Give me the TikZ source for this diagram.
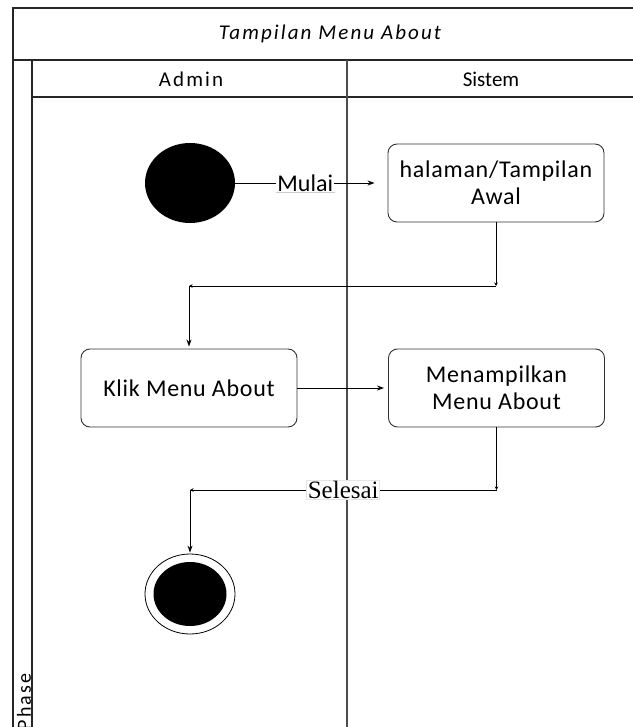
\documentclass[tikz,border=0pt]{standalone}
\usepackage{fontspec}
\setmainfont{Carlito}
\newfontfamily\labelserif{Liberation Serif}
\newfontfamily\spacedfont[LetterSpace=3]{Carlito}
\newfontfamily\widefont[LetterSpace=10]{Carlito}
\usetikzlibrary{shapes.geometric,arrows.meta}
\begin{document}
\begin{tikzpicture}[x=1pt,y=-1pt,
  frame/.style={draw=black!85, line width=1.3pt},
  divider/.style={draw=black!70, line width=1.8pt},
  lanehead/.style={font=\fontsize{21}{24}\selectfont},
  action/.style={draw=black!80, line width=0.9pt, rounded corners=9pt,
    minimum width=216pt, minimum height=78pt, align=center,
    font=\spacedfont\fontsize{24}{27}\selectfont, inner sep=2pt},
  flow/.style={draw=black, line width=0.9pt, -{Stealth[length=7pt,width=5pt]}},
  turn/.style={draw=black, line width=0.9pt, -{Stealth[length=3.5pt,width=3.5pt]}},
  lbl/.style={fill=white, inner sep=1pt, font=\fontsize{24}{27}\selectfont},
]
\useasboundingbox (0,0) rectangle (632,727);

% swimlane frame
\draw[frame] (645,8) -- (13,8) -- (13,745);
\draw[frame] (13,60) -- (645,60);
\draw[frame] (32,97) -- (645,97);
\draw[frame] (32,60) -- (32,745);
\draw[divider] (347,60) -- (347,745);

% headings
\node[font=\widefont\fontsize{21}{24}\selectfont\itshape] (title) at (330,34) {Tampilan Menu About};
\node[lanehead, font=\widefont\fontsize{21}{24}\selectfont] (adminhead) at (191,79) {Admin};
\node[lanehead] (sistemhead) at (491,79) {Sistem};
\node[rotate=90, font=\widefont\fontsize{20}{22}\selectfont] (phase) at (24,702) {Phase};

% activity nodes
\node[ellipse, fill=black, minimum width=90pt, minimum height=80pt, inner sep=0pt] (start) at (190,183) {};
\node[action] (box1) at (496,183) {halaman/Tampilan\\Awal};
\node[action] (box2) at (189,388) {Klik Menu About};
\node[action] (box3) at (496.5,388) {Menampilkan\\Menu About};
\node[ellipse, draw=black, line width=0.8pt, fill=white, minimum width=90pt, minimum height=80pt, inner sep=0pt] (stop) at (190,594) {};
\node[ellipse, fill=black, minimum width=73pt, minimum height=64pt, inner sep=0pt] (stopdot) at (stop.center) {};

% start -> halaman awal
\draw[flow, shorten >=13pt] (start) -- node[lbl, pos=0.46] (mulai) {Mulai} (box1);
\draw[black!20, line width=0.8pt] (mulai.south west) -- (mulai.south east);

% halaman awal -> klik menu about
\coordinate (c1) at (box1.south |- 0,286);
\coordinate (c2) at (box2.north |- c1);
\draw[turn] (box1.south) -- (c1);
\draw[turn] (c1) -- (c2);
\draw[flow, shorten >=2pt] (c2) -- (box2.north);

% klik menu about -> menampilkan menu about
\draw[flow, shorten >=4pt] (box2) -- (box3);

% menampilkan menu about -> selesai
\coordinate (c3) at (box3.south |- 0,490);
\coordinate (c4) at (stop.north |- c3);
\draw[turn] (box3.south) -- (c3);
\draw[turn] (c3) -- node[lbl, draw=black!10, font=\fontsize{25}{28}\selectfont\labelserif, pos=0.5] (selesai) {Selesai} (c4);
\draw[flow, shorten >=1pt] (c4) -- (stop.north);
\end{tikzpicture}
\end{document}
